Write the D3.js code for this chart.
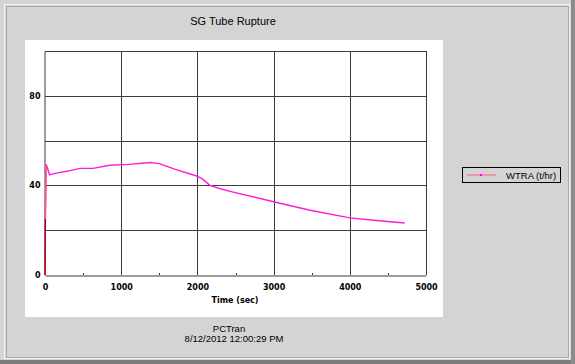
<!DOCTYPE html>
<html>
<head>
<meta charset="utf-8">
<script src="https://cdn.jsdelivr.net/npm/d3@7"></script>
<style>
  body { margin: 0; background: #d4d4d4; }
  svg { display: block; }
</style>
</head>
<body>
<div id="chart"></div>
<script>
// data
var times  = [0, 5, 15, 30, 60, 150, 300, 460, 630, 850, 1100, 1380, 1500, 1700, 1990, 2060, 2165, 2300, 2470, 3000, 3480, 4000, 4350, 4720];
var wtra   = [0, 25, 49.5, 48, 44.8, 45.5, 46.4, 47.6, 47.6, 49, 49.4, 50.2, 49.7, 47.3, 44.2, 43, 40, 38.5, 37, 32.7, 28.9, 25.5, 24.3, 23.2];
var xTicks = [0, 1000, 2000, 3000, 4000, 5000];
var xMinor = [500, 1500, 2500, 3500, 4500];
var yGrid  = [20, 40, 60, 80, 100];
var yLabels = [0, 40, 80];
var seriesName = "WTRA (t/hr)";

var W = 575, H = 364;
var svg = d3.select("#chart").append("svg")
    .attr("width", W)
    .attr("height", H);

// window background + frame
svg.append("rect").attr("width", W).attr("height", H).attr("fill", "#d4d4d4");
svg.append("rect").attr("x", 4.5).attr("y", 4.5).attr("width", 565).attr("height", 354)
    .attr("fill", "none").attr("stroke", "#f4f4f4");
svg.append("rect").attr("x", 6.5).attr("y", 6.5).attr("width", 562).attr("height", 351)
    .attr("fill", "none").attr("stroke", "#a8a8a8");
svg.append("rect").attr("x", 0).attr("y", 360).attr("width", W).attr("height", 4).attr("fill", "#7c7c7c");
svg.append("rect").attr("x", 571).attr("y", 0).attr("width", 4).attr("height", H).attr("fill", "#8c8c8c");

// white plot panel
svg.append("rect").attr("x", 25).attr("y", 40).attr("width", 418).attr("height", 277).attr("fill", "#fff");

var x = d3.scaleLinear().domain([0, 5000]).range([45, 426]);
var y = d3.scaleLinear().domain([0, 100]).range([275, 51]);

// grid
svg.append("g").selectAll("line").data(yGrid).join("line")
    .attr("x1", x(0)).attr("x2", x(5000))
    .attr("y1", function(d) { return Math.round(y(d)) + 0.5; })
    .attr("y2", function(d) { return Math.round(y(d)) + 0.5; })
    .attr("stroke", "#3c3c3c");
svg.append("g").selectAll("line").data(xTicks.slice(1)).join("line")
    .attr("x1", function(d) { return Math.round(x(d)) + 0.5; })
    .attr("x2", function(d) { return Math.round(x(d)) + 0.5; })
    .attr("y1", y(0)).attr("y2", y(100))
    .attr("stroke", "#3c3c3c");

// axes
var xAxis = svg.append("g")
    .attr("transform", "translate(0," + (Math.round(y(0)) + 0.5) + ")")
    .call(d3.axisBottom(x).tickValues(xTicks).tickFormat(d3.format("d")).tickSize(0).tickPadding(9));
xAxis.select(".domain").attr("stroke", "#3c3c3c");
xAxis.selectAll("text").style("font", "bold 8px 'DejaVu Sans'").attr("fill", "#000");
svg.append("g").selectAll("line").data(xMinor).join("line")
    .attr("x1", function(d) { return Math.round(x(d)) + 0.5; })
    .attr("x2", function(d) { return Math.round(x(d)) + 0.5; })
    .attr("y1", y(0)).attr("y2", y(0) - 2)
    .attr("stroke", "#3c3c3c");

var yAxis = svg.append("g")
    .attr("transform", "translate(" + (Math.round(x(0)) - 0.5) + ",0)")
    .call(d3.axisLeft(y).tickValues(yLabels).tickFormat(d3.format("d")).tickSize(0).tickPadding(4));
yAxis.select(".domain").attr("stroke", "#3c3c3c");
yAxis.selectAll("text").style("font", "bold 8px 'DejaVu Sans'").attr("fill", "#000");

// series
var pts = times.map(function(t, i) { return [t, wtra[i]]; });
var line = d3.line().x(function(d) { return x(d[0]); }).y(function(d) { return y(d[1]); });
svg.append("path").datum(pts)
    .attr("fill", "none").attr("stroke", "#ff1cd8").attr("stroke-width", 1.4)
    .attr("d", line);
svg.append("path").datum(pts.slice(0, 3))
    .attr("fill", "none").attr("stroke", "#ff5a6a").attr("stroke-width", 1.3)
    .attr("d", line);
svg.append("path").datum(pts.slice(0, 2))
    .attr("fill", "none").attr("stroke", "#8a0010").attr("stroke-width", 1.2)
    .attr("d", line);

// texts
svg.append("text").attr("x", 233).attr("y", 25).attr("text-anchor", "middle")
    .style("font", "11px 'Liberation Sans', Arial").text("SG Tube Rupture");
svg.append("text").attr("x", 235).attr("y", 303).attr("text-anchor", "middle")
    .style("font", "bold 8px 'DejaVu Sans'").text("Time (sec)");
svg.append("text").attr("x", 229).attr("y", 332).attr("text-anchor", "middle")
    .style("font", "9.5px 'Liberation Sans', Arial").text("PCTran");
svg.append("text").attr("x", 234).attr("y", 342).attr("text-anchor", "middle")
    .style("font", "9.5px 'Liberation Sans', Arial").text("8/12/2012 12:00:29 PM");

// legend
var lg = svg.append("g");
lg.append("rect").attr("x", 462.5).attr("y", 167.5).attr("width", 98).attr("height", 15)
    .attr("fill", "none").attr("stroke", "#000");
lg.append("line").attr("x1", 467).attr("x2", 496).attr("y1", 175).attr("y2", 175)
    .attr("stroke", "#ff5a8a").attr("stroke-width", 1);
lg.append("rect").attr("x", 480).attr("y", 174).attr("width", 2).attr("height", 2).attr("fill", "#ff00ff");
lg.append("text").attr("x", 506).attr("y", 179).style("font", "9.5px 'Liberation Sans', Arial").text(seriesName);
</script>
</body>
</html>
